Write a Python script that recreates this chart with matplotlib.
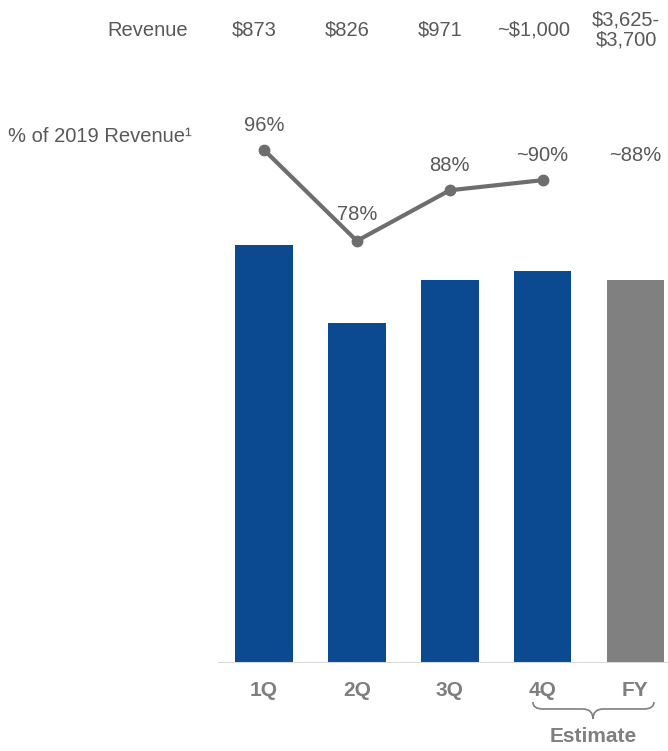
import numpy as np
import matplotlib.pyplot as plt
from matplotlib.path import Path
from matplotlib.patches import PathPatch
from matplotlib import transforms

plt.rcParams['font.family'] = ['Liberation Sans', 'DejaVu Sans']

periods = ['1Q', '2Q', '3Q', '4Q', 'FY']
revenue_labels = ['$873', '$826', '$971', '~$1,000', '$3,625-\n$3,700']
pct_2019 = [96, 78, 88, 90, 88]
pct_labels = ['96%', '78%', '88%', '~90%', '~88%']
quarters = 4  # the line only runs through the quarters

bar_colors = ['#0b4a91'] * 4 + ['#808080']
text_col = '#595959'
tick_col = '#7f7f7f'
fs = 14.5

fig = plt.figure(figsize=(6.68, 7.51), dpi=100)
ax = fig.add_axes([0.3263, 0.1172, 0.6737, 0.8828])
x = np.arange(len(periods))

ax.bar(x, pct_2019, width=0.62, color=bar_colors, zorder=2)
ax.axhline(0, color='#d9d9d9', lw=2.2, zorder=3)
ax.set_xlim(-0.495, 4.35)
ax.set_ylim(0, 152.2)
for s in ax.spines.values():
    s.set_visible(False)
ax.set_yticks([])
ax.set_xticks(x)
ax.set_xticklabels(periods, fontsize=15, fontweight='bold', color=tick_col)
ax.tick_params(axis='x', length=0, pad=13)

# line of % of 2019 revenue on its own scale
lx = ax.twinx()
lx.set_ylim(-5.4, 125.6)
lx.axis('off')
lx.plot(x[:quarters], pct_2019[:quarters], color='#6e6e6e', lw=3,
        marker='o', ms=7.5, zorder=4)
for i in range(len(periods)):
    yv = pct_2019[i] if i < quarters else pct_2019[quarters - 1]
    dy = 19 if i == 1 else 17.5
    lx.annotate(pct_labels[i], (x[i], yv), xytext=(0, dy), textcoords='offset points',
                ha='center', va='center', fontsize=fs, color=text_col)

# header rows
hdr = transforms.blended_transform_factory(ax.transData, fig.transFigure)
fig.text(148 / 668, 1 - 31 / 751, 'Revenue', ha='center', va='center',
         fontsize=fs, color=text_col)
for i, lab in enumerate(revenue_labels):
    ax.text(x[i] - 0.1, 1 - 30 / 751, lab, transform=hdr, ha='center', va='center',
            fontsize=fs, color=text_col, linespacing=1.1)
fig.text(8 / 668, 1 - 137 / 751, '% of 2019 Revenue¹', ha='left', va='center',
         fontsize=fs, color=text_col)

# brace under the estimated periods
x0, x1, xm, d = 2.895, 4.199, 3.542, 0.11
yt, ym, yb = 1 - 702 / 751, 1 - 709 / 751, 1 - 719 / 751
verts = [(x0, yt), (x0, ym), (x0 + d, ym), (xm - d, ym), (xm, ym), (xm, yb),
         (xm, ym), (xm + d, ym), (x1 - d, ym), (x1, ym), (x1, yt)]
codes = [Path.MOVETO, Path.CURVE3, Path.CURVE3, Path.LINETO, Path.CURVE3, Path.CURVE3,
         Path.CURVE3, Path.CURVE3, Path.LINETO, Path.CURVE3, Path.CURVE3]
brace = PathPatch(Path(verts, codes), transform=hdr, fill=False,
                  edgecolor=tick_col, lw=1.2, clip_on=False)
fig.patches.append(brace)
ax.text(xm, 1 - 737 / 751, 'Estimate', transform=hdr, ha='center', va='center',
        fontsize=15, fontweight='bold', color=tick_col)

fig.savefig('out.png', dpi=100)
